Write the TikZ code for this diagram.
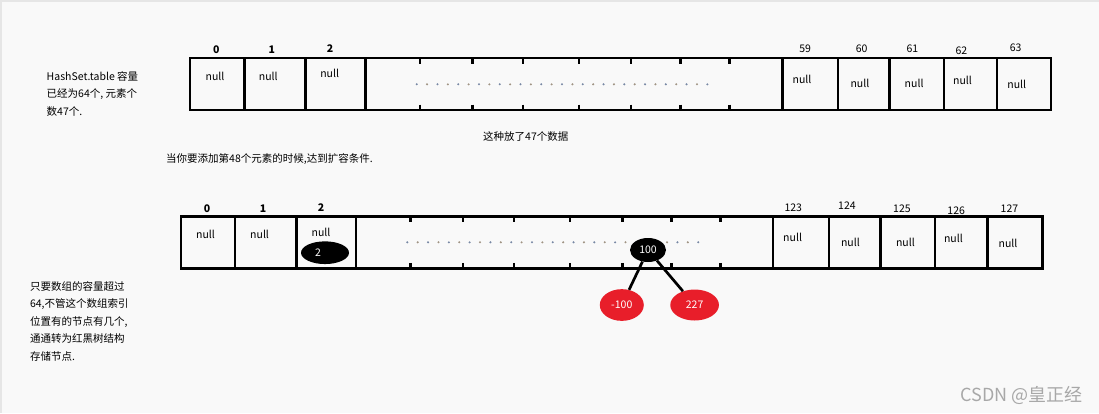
\documentclass[tikz,border=0pt]{standalone}
\usepackage{fontspec}
\setmainfont{Noto Sans CJK SC}
\usetikzlibrary{shapes.geometric}
\definecolor{bg}{HTML}{F9F9F9}
\definecolor{edge}{HTML}{E6E6E6}
\definecolor{rbred}{HTML}{E81E2A}
\definecolor{dotA}{HTML}{7888A4}
\definecolor{dotB}{HTML}{A09484}
\definecolor{wm}{HTML}{A8A8A8}
\tikzset{
  cell/.style={line width=2.7pt},
  tick/.style={line width=2.2pt},
  txt/.style={font=\fontsize{10.5}{12}\selectfont, inner sep=0pt},
  idx/.style={font=\fontsize{10.5}{12}\selectfont\bfseries, inner sep=0pt},
  num/.style={font=\fontsize{10.5}{12}\selectfont, inner sep=0pt},
  para/.style={font=\fontsize{10.5}{17.5}\selectfont, inner sep=0pt, align=left, anchor=north west},
  blacknode/.style={ellipse, fill=black, text=white, inner sep=0pt, font=\fontsize{10.5}{12}\selectfont},
  rednode/.style={ellipse, fill=rbred, text=white, inner sep=0pt, font=\fontsize{10.5}{12}\selectfont},
  branch/.style={line width=2.7pt},
  dot/.style={circle, inner sep=0pt, minimum size=2.3pt}
}
\begin{document}
\begin{tikzpicture}[x=1pt,y=-1pt]
\useasboundingbox (0,0) rectangle (1099,413);
\fill[bg] (0,0) rectangle (1099,413);
\fill[edge] (0,0) rectangle (2,413);
\fill[edge] (0,0) rectangle (1099,2);

% ---------- top array ----------
\draw[cell] (190,58) rectangle (1051,110);
\foreach \x in {244.5,305.5,365.5,782.5,838,889.5,944,997} \draw[cell] (\x,58) -- (\x,110);
\foreach \x in {420,472.5,523,579,631,680.5,729.5} {
  \draw[tick] (\x,58) -- (\x,63.5);
  \draw[tick] (\x,104.5) -- (\x,110);
}
\foreach \i in {0,...,28} {
  \pgfmathsetmacro{\xx}{416.7+\i*10.38}
  \ifodd\i \node[dot, fill=dotB] (td\i) at (\xx,84.3) {}; \else \node[dot, fill=dotA] (td\i) at (\xx,84.3) {}; \fi
}
\node[idx] (ti0) at (216.4,49.3) {0};
\node[idx] (ti1) at (271.8,49.3) {1};
\node[idx] (ti2) at (330,48.3) {2};
\node[num] (ti59) at (805.2,49) {59};
\node[num] (ti60) at (861.6,48.3) {60};
\node[num] (ti61) at (912.4,49) {61};
\node[num] (ti62) at (961.4,50.3) {62};
\node[num] (ti63) at (1015.7,47.3) {63};
\node[txt] (tn0) at (215,76.7) {null};
\node[txt] (tn1) at (268.3,76.7) {null};
\node[txt] (tn2) at (329.7,73.7) {null};
\node[txt] (tn59) at (802,79.3) {null};
\node[txt] (tn60) at (859.9,83.7) {null};
\node[txt] (tn61) at (914.1,83.7) {null};
\node[txt] (tn62) at (962.5,80) {null};
\node[txt] (tn63) at (1016.7,84.7) {null};

\node[para] (ttext) at (46.5,71) {HashSet.table 容量\\已经为64个, 元素个\\数47个.};
\node[txt, anchor=west] (tmid) at (483,136.7) {这种放了47个数据};
\node[txt, anchor=west] (tcond) at (166,159.3) {当你要添加第48个元素的时候,达到扩容条件.};

% ---------- bottom array ----------
\draw[cell] (181,216.7) rectangle (1042.5,268.3);
\foreach \x in {235,296.4,356,773,829,880.5,935,987.7} \draw[cell] (\x,216.7) -- (\x,268.3);
\foreach \x in {410.4,463,513.8,570,622.5,671.5,720.5} {
  \draw[tick] (\x,216.7) -- (\x,222.2);
  \draw[tick] (\x,262.8) -- (\x,268.3);
}
\foreach \i in {0,...,28} {
  \pgfmathsetmacro{\xx}{407.3+\i*10.39}
  \ifodd\i \node[dot, fill=dotB] (bd\i) at (\xx,242.3) {}; \else \node[dot, fill=dotA] (bd\i) at (\xx,242.3) {}; \fi
}
\node[idx] (bi0) at (207,208.3) {0};
\node[idx] (bi1) at (263,208.3) {1};
\node[idx] (bi2) at (321,207.3) {2};
\node[num] (bi123) at (793.3,207.7) {123};
\node[num] (bi124) at (846.9,206) {124};
\node[num] (bi125) at (901.9,208.7) {125};
\node[num] (bi126) at (956.2,210.3) {126};
\node[num] (bi127) at (1009.4,208.7) {127};
\node[txt] (bn0) at (205.5,234.7) {null};
\node[txt] (bn1) at (259.6,234.7) {null};
\node[txt] (bn2) at (321,232) {null};
\node[txt] (bn123) at (792.6,237.7) {null};
\node[txt] (bn124) at (850.4,242.3) {null};
\node[txt] (bn125) at (905.4,242.7) {null};
\node[txt] (bn126) at (953.4,238.3) {null};
\node[txt] (bn127) at (1008,243.3) {null};

\node[blacknode, minimum width=48pt, minimum height=22.7pt, text width=20pt, align=left] (e2) at (325,252.7) {\raisebox{-1.5pt}{2}};
\node[blacknode, minimum width=36pt, minimum height=24pt] (e100) at (648,250) {\raisebox{-2pt}{100}};
\node[rednode, minimum width=44pt, minimum height=31.7pt] (em100) at (621.8,305) {-100};
\node[rednode, minimum width=48.7pt, minimum height=31pt] (e227) at (694.6,305) {227};
\draw[branch] (e100) -- (em100);
\draw[branch] (e100) -- (e227);

\node[para] (btext) at (29.8,281) {只要数组的容量超过\\64,不管这个数组索引\\位置有的节点有几个,\\通通转为红黑树结构\\存储节点.};

\node[font=\fontsize{18}{20}\selectfont, text=wm, inner sep=0pt, anchor=east] (wmk) at (1083,395) {CSDN @皇正经};
\end{tikzpicture}
\end{document}
